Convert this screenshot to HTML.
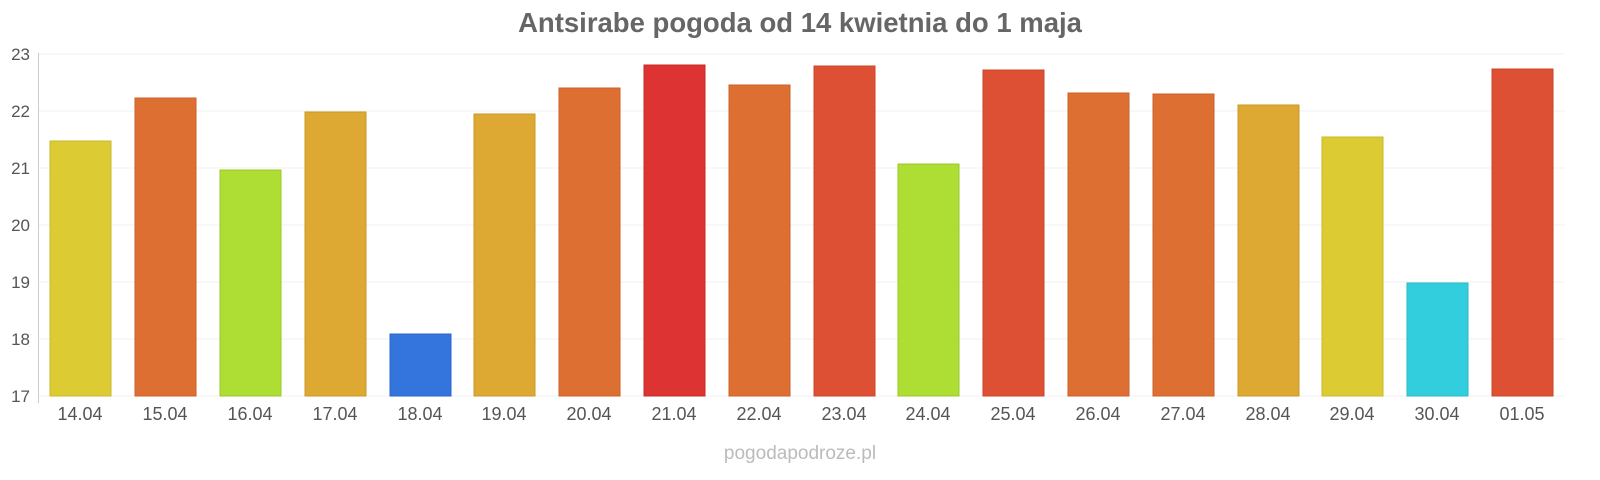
<!DOCTYPE html>
<html><head><style>
body{margin:0;background:#fff;}
svg{display:block;font-family:"Liberation Sans",sans-serif;}
</style></head><body>
<svg width="1600" height="480" xmlns="http://www.w3.org/2000/svg">
<text x="800" y="32" text-anchor="middle" font-size="27.5" font-weight="bold" fill="#666">Antsirabe pogoda od 14 kwietnia do 1 maja</text>
<g stroke="#f0f0f0" stroke-width="1">
<line x1="38" x2="1565" y1="54" y2="54"/><line x1="38" x2="1565" y1="111" y2="111"/><line x1="38" x2="1565" y1="168" y2="168"/><line x1="38" x2="1565" y1="225" y2="225"/><line x1="38" x2="1565" y1="282" y2="282"/><line x1="38" x2="1565" y1="339" y2="339"/><line x1="38" x2="1565" y1="396" y2="396"/>
</g>
<line x1="38.5" x2="38.5" y1="53" y2="403" stroke="#ccc"/>
<g font-size="17" fill="#555" text-anchor="end">
<text x="30" y="60">23</text><text x="30" y="117">22</text><text x="30" y="174">21</text><text x="30" y="231">20</text><text x="30" y="288">19</text><text x="30" y="345">18</text><text x="30" y="402">17</text>
</g>
<text x="800" y="459" text-anchor="middle" font-size="19" fill="#bbb">pogodapodroze.pl</text>
<g stroke-width="1">
<rect x="50" y="141" width="61" height="255" fill="#dccb33" stroke="#c9b82a"/>
<rect x="135" y="98" width="61" height="298" fill="#de6f33" stroke="#c9602a"/>
<rect x="220" y="170" width="61" height="226" fill="#aedd33" stroke="#9ac92a"/>
<rect x="305" y="112" width="61" height="284" fill="#dda933" stroke="#c9972a"/>
<rect x="390" y="334" width="61" height="62" fill="#3375dd" stroke="#2a66c9"/>
<rect x="474" y="114" width="61" height="282" fill="#dda933" stroke="#c9972a"/>
<rect x="559" y="88" width="61" height="308" fill="#de6f33" stroke="#c9602a"/>
<rect x="644" y="65" width="61" height="331" fill="#dd3333" stroke="#c92a2a"/>
<rect x="729" y="85" width="61" height="311" fill="#de6f33" stroke="#c9602a"/>
<rect x="814" y="66" width="61" height="330" fill="#dd5033" stroke="#c9442a"/>
<rect x="898" y="164" width="61" height="232" fill="#aedd33" stroke="#9ac92a"/>
<rect x="983" y="70" width="61" height="326" fill="#dd5033" stroke="#c9442a"/>
<rect x="1068" y="93" width="61" height="303" fill="#de6f33" stroke="#c9602a"/>
<rect x="1153" y="94" width="61" height="302" fill="#de6f33" stroke="#c9602a"/>
<rect x="1238" y="105" width="61" height="291" fill="#dda933" stroke="#c9972a"/>
<rect x="1322" y="137" width="61" height="259" fill="#dccb33" stroke="#c9b82a"/>
<rect x="1407" y="283" width="61" height="113" fill="#33cedd" stroke="#2abac9"/>
<rect x="1492" y="69" width="61" height="327" fill="#dd5033" stroke="#c9442a"/>
</g>
<g font-size="18" fill="#555" text-anchor="middle">
<text x="80" y="420">14.04</text><text x="165" y="420">15.04</text><text x="250" y="420">16.04</text><text x="335" y="420">17.04</text><text x="420" y="420">18.04</text><text x="504" y="420">19.04</text><text x="589" y="420">20.04</text><text x="674" y="420">21.04</text><text x="759" y="420">22.04</text><text x="844" y="420">23.04</text><text x="928" y="420">24.04</text><text x="1013" y="420">25.04</text><text x="1098" y="420">26.04</text><text x="1183" y="420">27.04</text><text x="1268" y="420">28.04</text><text x="1352" y="420">29.04</text><text x="1437" y="420">30.04</text><text x="1522" y="420">01.05</text>
</g>
</svg>
</body></html>
